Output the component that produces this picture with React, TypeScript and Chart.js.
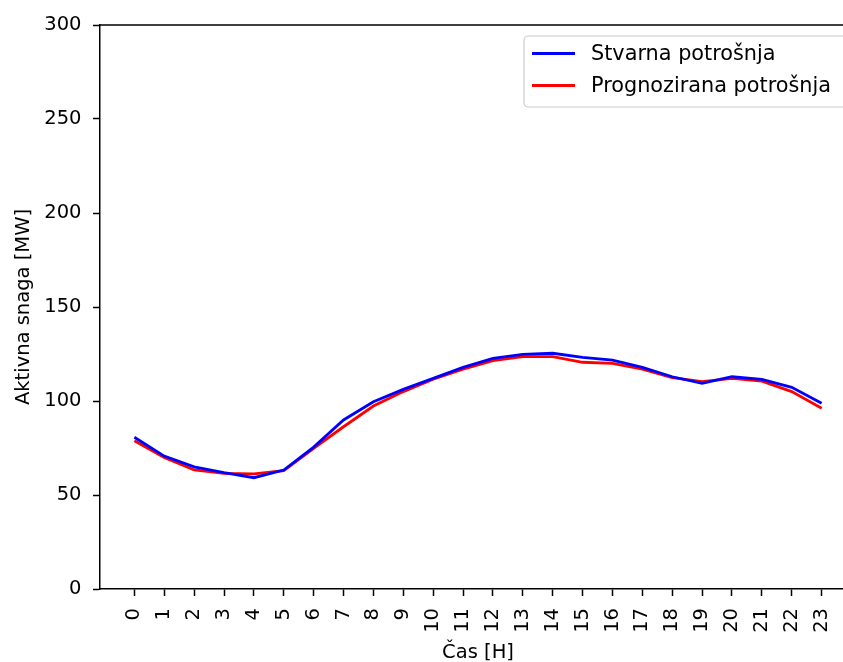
import React, { useEffect, useRef } from "react";
import { Chart, registerables } from "chart.js";

Chart.register(...registerables);

const hours = [0,1,2,3,4,5,6,7,8,9,10,11,12,13,14,15,16,17,18,19,20,21,22,23];
const actual = [80.7,70.7,65,61.9,59.2,63.3,75.5,89.9,99.6,106.2,112,117.9,122.7,124.8,125.4,123.2,121.8,117.9,112.9,109.4,112.9,111.5,107.3,98.8];
const forecast = [78.9,70,63.3,61.5,61.2,62.9,74.8,86.3,97.3,105,111.6,116.9,121.5,123.6,123.6,120.6,120,117,112.4,110.3,112,110.6,105,96.1];
const yTicks = [0, 50, 100, 150, 200, 250, 300];
const seriesLabels = ["Stvarna potrošnja", "Prognozirana potrošnja"];
const seriesColors = ["#0000ff", "#ff0000"];
const xTitle = "Čas [H]";
const yTitle = "Aktivna snaga [MW]";

const FONT = "'DejaVu Sans', sans-serif";
const FS = 19.5;
const LEGEND_FS = 20.8;

const framePlugin = {
  id: "frame",
  afterDraw(chart: any) {
    const { ctx, chartArea } = chart;
    ctx.save();
    ctx.strokeStyle = "#000";
    ctx.lineWidth = 1.5;
    ctx.beginPath();
    ctx.moveTo(chartArea.left, chartArea.top);
    ctx.lineTo(chartArea.right, chartArea.top);
    ctx.lineTo(chartArea.right, chartArea.bottom);
    ctx.stroke();
    // legend
    const bx = 524, by = 36, bw = 340, bh = 71;
    ctx.fillStyle = "rgba(255,255,255,0.8)";
    ctx.strokeStyle = "#cccccc";
    ctx.lineWidth = 1.2;
    ctx.beginPath();
    const r = 4;
    ctx.moveTo(bx + r, by);
    ctx.lineTo(bx + bw - r, by);
    ctx.arcTo(bx + bw, by, bx + bw, by + r, r);
    ctx.lineTo(bx + bw, by + bh - r);
    ctx.arcTo(bx + bw, by + bh, bx + bw - r, by + bh, r);
    ctx.lineTo(bx + r, by + bh);
    ctx.arcTo(bx, by + bh, bx, by + bh - r, r);
    ctx.lineTo(bx, by + r);
    ctx.arcTo(bx, by, bx + r, by, r);
    ctx.closePath();
    ctx.fill();
    ctx.stroke();
    chart.data.datasets.forEach((ds: any, i: number) => {
      const y = 53.5 + i * 32;
      ctx.strokeStyle = ds.borderColor;
      ctx.lineWidth = 2.8;
      ctx.beginPath();
      ctx.moveTo(532, y);
      ctx.lineTo(575, y);
      ctx.stroke();
      ctx.fillStyle = "#000";
      ctx.font = `${LEGEND_FS}px ${FONT}`;
      ctx.textBaseline = "middle";
      ctx.textAlign = "left";
      ctx.fillText(ds.label, 591, y + 1);
    });
    ctx.restore();
  },
};

export default function App() {
  const ref = useRef<HTMLCanvasElement>(null);
  useEffect(() => {
    if (!ref.current) return;
    const chart = new Chart(ref.current, {
      type: "line",
      data: {
        datasets: [
          { label: seriesLabels[0], data: hours.map((h, i) => ({ x: h, y: actual[i] })), borderColor: seriesColors[0], backgroundColor: seriesColors[0], borderWidth: 2.8, pointRadius: 0, tension: 0 },
          { label: seriesLabels[1], data: hours.map((h, i) => ({ x: h, y: forecast[i] })), borderColor: seriesColors[1], backgroundColor: seriesColors[1], borderWidth: 2.8, pointRadius: 0, tension: 0 },
        ],
      },
      options: {
        animation: false,
        responsive: false,
        devicePixelRatio: 1,
        layout: { padding: { top: 25, right: 24, left: 0, bottom: 0 } },
        plugins: { legend: { display: false }, tooltip: { enabled: false } },
        scales: {
          x: {
            type: "linear",
            min: -1.15,
            max: 24.15,
            afterBuildTicks: (scale: any) => {
              scale.ticks = hours.map((h) => ({ value: h }));
            },
            afterFit: (scale: any) => { scale.height = 73; },
            grid: { display: true, drawOnChartArea: false, drawTicks: true, tickLength: 7, tickWidth: 1.5, color: "#000" },
            border: { display: true, color: "#000", width: 1.5 },
            ticks: { autoSkip: false, maxRotation: 90, minRotation: 90, padding: 12, color: "#000", font: { family: FONT, size: FS }, callback: (v: any) => String(v) },
            title: { display: true, text: xTitle, color: "#000", font: { family: FONT, size: FS }, padding: { top: 0, bottom: -3 } },
          },
          y: {
            min: 0,
            max: 300,
            afterBuildTicks: (scale: any) => {
              scale.ticks = yTicks.map((v) => ({ value: v }));
            },
            afterFit: (scale: any) => { scale.width = 100; },
            grid: { display: true, drawOnChartArea: false, drawTicks: true, tickLength: 7, tickWidth: 1.5, color: "#000" },
            border: { display: true, color: "#000", width: 1.5 },
            ticks: { padding: 11.5, color: "#000", font: { family: FONT, size: FS } },
            title: { display: true, text: yTitle, color: "#000", font: { family: FONT, size: FS }, padding: { top: 12, bottom: 0 } },
          },
        },
      },
      plugins: [framePlugin],
    });
    return () => chart.destroy();
  }, []);
  return (
    <div style={{ position: "fixed", left: 0, top: 0, width: 843, height: 662, overflow: "hidden", background: "#fff" }}>
      <canvas ref={ref} width={880} height={662} style={{ display: "block" }} />
    </div>
  );
}
